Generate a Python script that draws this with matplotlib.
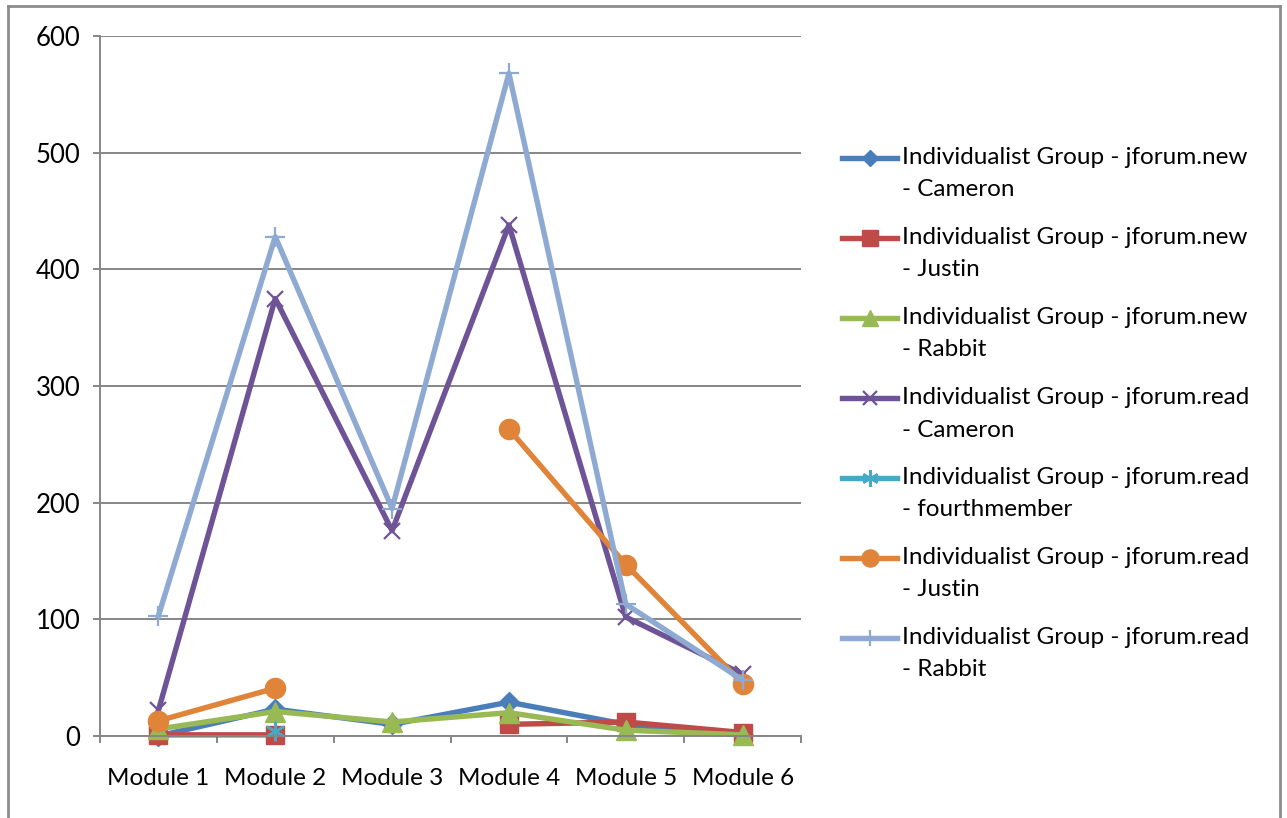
import numpy as np
import matplotlib
matplotlib.use("Agg")
import matplotlib.pyplot as plt
from matplotlib.lines import Line2D

plt.rcParams['font.family'] = ['Lato', 'DejaVu Sans']

categories = ["Module 1", "Module 2", "Module 3", "Module 4", "Module 5", "Module 6"]
nan = np.nan
cameron_new = [0, 23, 10, 29, 10, 1]
justin_new = [1, 1, nan, 10, 12, 3]
rabbit_new = [6, 21, 12, 20, 5, 1]
cameron_read = [22, 375, 176, 438, 102, 53]
fourth_read = [nan, 4, nan, nan, nan, nan]
justin_read = [13, 41, nan, 263, 147, 45]
rabbit_read = [103, 428, 195, 568, 113, 48]

labels = [
    ("Individualist Group - jforum.new", "- Cameron"),
    ("Individualist Group - jforum.new", "- Justin"),
    ("Individualist Group - jforum.new", "- Rabbit"),
    ("Individualist Group - jforum.read", "- Cameron"),
    ("Individualist Group - jforum.read", "- fourthmember"),
    ("Individualist Group - jforum.read", "- Justin"),
    ("Individualist Group - jforum.read", "- Rabbit"),
]
series = [cameron_new, justin_new, rabbit_new, cameron_read, fourth_read, justin_read, rabbit_read]
colors = ["#4A7EBB", "#BE4B48", "#98B954", "#6E5496", "#46AAC5", "#E0843A", "#8FAAD2"]
# marker, size, edge width
markers = [("D", 10, 1), ("s", 13, 1), ("^", 14, 1), ("x", 12, 1.6),
           ((6, 2, 0), 14, 1.8), ("o", 14.5, 1), ("+", 14, 1.6)]

W, H = 1287, 818
fig = plt.figure(figsize=(W / 100, H / 100), dpi=100)
ax = fig.add_axes([100 / W, 1 - 736 / H, 701 / W, 700 / H])

x = np.arange(len(categories))
for vals, c, (m, ms, mew) in zip(series, colors, markers):
    ax.plot(x, vals, color=c, lw=3.9, marker=m, markersize=ms,
            markerfacecolor=c, markeredgecolor=c, markeredgewidth=mew,
            solid_joinstyle='round', clip_on=False)

grid_c = "#868686"
fs = 17.5
ax.set_xlim(-0.5, 5.5)
ax.set_ylim(0, 600)
ax.set_yticks(range(0, 601, 100))
ax.yaxis.grid(True, color=grid_c, lw=1.4)
ax.set_axisbelow(True)
for s in ["top", "right"]:
    ax.spines[s].set_visible(False)
for s in ["left", "bottom"]:
    ax.spines[s].set_color(grid_c)
    ax.spines[s].set_linewidth(1.4)
ax.set_xticks(x)
ax.set_xticklabels(categories)
ax.set_xticks(np.arange(-0.5, 6.0, 1.0), minor=True)
ax.tick_params(axis='x', which='major', length=0, pad=23, labelsize=fs)
ax.tick_params(axis='x', which='minor', length=5, width=1.4, color=grid_c, direction='out')
ax.tick_params(axis='y', length=5, width=1.4, color=grid_c, direction='out', pad=9, labelsize=18.5)

# legend (manual, handle aligned with first label line)
for i, (lab, c, (m, ms, mew)) in enumerate(zip(labels, colors, markers)):
    y1 = 158 + 80 * i
    yf = 1 - y1 / H
    fig.add_artist(Line2D([842 / W, 897 / W], [yf, yf], color=c, lw=3.9,
                          transform=fig.transFigure))
    fig.add_artist(Line2D([869.5 / W], [yf], color=c, marker=m, markersize=ms * 0.85,
                          markerfacecolor=c, markeredgecolor=c, markeredgewidth=mew,
                          transform=fig.transFigure))
    fig.text(902 / W, yf, lab[0], fontsize=fs, va='center')
    fig.text(902 / W, 1 - (y1 + 32) / H, lab[1], fontsize=fs, va='center')

# outer border
bc = "#8C8C8C"
for xs, ys in [([8, 1280], [6, 6]), ([8, 8], [6, 818]), ([1280, 1280], [6, 818])]:
    fig.add_artist(Line2D([v / W for v in xs], [1 - v / H for v in ys], color=bc, lw=2,
                          transform=fig.transFigure))

fig.savefig("out.png", dpi=100)
